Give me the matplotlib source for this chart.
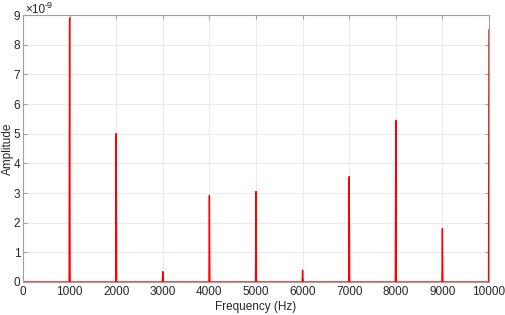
import numpy as np
import matplotlib
matplotlib.use("Agg")
import matplotlib.pyplot as plt

# peak positions (Hz) and amplitudes (x1e-9)
peak_freqs = [1000, 2000, 3000, 4000, 5000, 6000, 7000, 8000, 9000, 10000]
peak_amps = [8.9, 5.0, 0.35, 2.92, 3.05, 0.4, 3.55, 5.45, 1.8, 8.5]

freq = np.arange(0, 10001, 10)
amp = np.zeros(len(freq))
for f, a in zip(peak_freqs, peak_amps):
    amp[np.searchsorted(freq, f)] = a * 1e-9

plt.rcParams['font.family'] = ['Liberation Sans', 'DejaVu Sans']
plt.rcParams['font.size'] = 8.5

fig = plt.figure(figsize=(5.05, 3.15), dpi=100)
ax = fig.add_axes([23/505, 33/315, 466/505, 267/315])
ax.plot(freq, amp, color='red', lw=1.0)

ax.set_xlim(0, 10000)
ax.set_ylim(0, 9e-9)
ax.set_xticks(np.arange(0, 10001, 1000))
ax.set_yticks(np.arange(0, 10) * 1e-9)
ax.set_yticklabels([str(i) for i in range(10)])
# exponent label, drawn as two pieces so it stays inside the figure
fig.text(25/505, 1 - 13/315, '\u00d710', fontsize=8.5, color='#262626',
         ha='left', va='baseline')
fig.text(45/505, 1 - 8/315, '-9', fontsize=6.5, color='#262626',
         ha='left', va='baseline')
ax.grid(True, color='#ebebeb', lw=0.7)
ax.set_axisbelow(True)
for s in ax.spines.values():
    s.set_color('#a0a0a0')
    s.set_linewidth(0.8)
ax.tick_params(direction='in', length=3, color='#a0a0a0', labelcolor='#262626',
               top=True, right=True, labeltop=False, labelright=False, pad=3)
ax.tick_params(axis='y', pad=2)
ax.set_xlabel('Frequency (Hz)', color='#262626', fontsize=8.5, labelpad=2)
ax.set_ylabel('Amplitude', color='#262626', fontsize=8.5, labelpad=0)

fig.savefig('out.png', dpi=100)
